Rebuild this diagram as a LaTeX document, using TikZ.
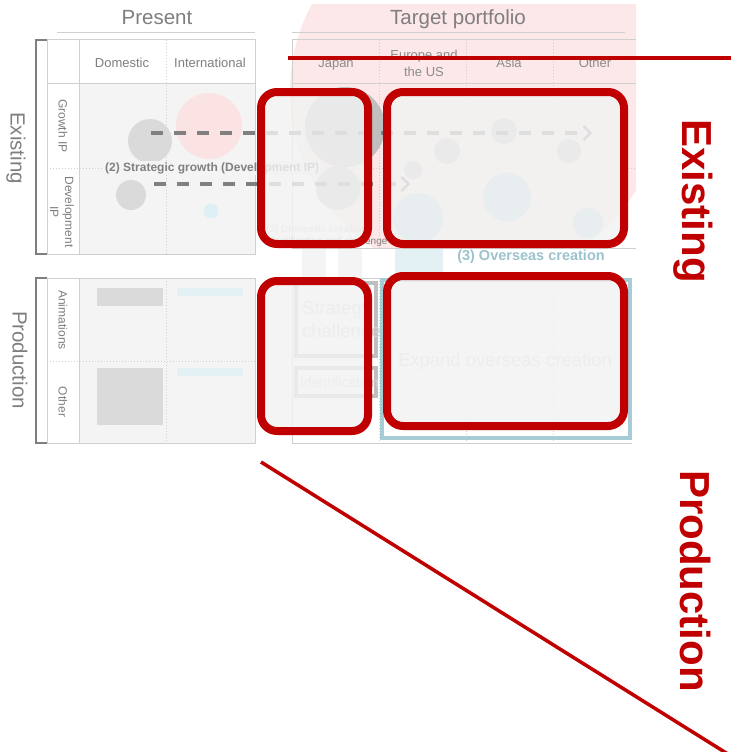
\documentclass[tikz,border=0pt]{standalone}
\usepackage{fontspec}
\setmainfont{Liberation Sans}
\usetikzlibrary{arrows.meta,positioning}
\definecolor{ink}{HTML}{7F7F7F}
\definecolor{muted}{HTML}{8C8C8C}
\definecolor{hair}{HTML}{D0D0D0}
\definecolor{cellfill}{HTML}{F4F4F4}
\definecolor{blush}{HTML}{FCE7E9}
\definecolor{pinkdot}{HTML}{FBE3E4}
\definecolor{bubble}{HTML}{DADADA}
\definecolor{bubbledark}{HTML}{BFBFBF}
\definecolor{bubblefar}{HTML}{C4C4C4}
\definecolor{icefill}{HTML}{DDF0F3}
\definecolor{icefar}{HTML}{B9D8E2}
\definecolor{icebar}{HTML}{E4F1F4}
\definecolor{teal}{HTML}{9DC3CE}
\definecolor{tealedge}{HTML}{A6CCD5}
\definecolor{veil}{HTML}{F2F2F2}
\definecolor{hired}{HTML}{C00000}
\definecolor{flowgray}{HTML}{808080}
\definecolor{ghost}{HTML}{D6D6D6}
\definecolor{ghostblue}{HTML}{CCDADF}
\tikzset{
  every node/.style={text=ink},
  title/.style={font=\fontsize{20.5}{23}\selectfont, anchor=base},
  hdr/.style={font=\fontsize{13}{17}\selectfont, align=center},
  rowlbl/.style={font=\fontsize{12}{15}\selectfont, rotate=-90, align=center},
  seclbl/.style={font=\fontsize{20.5}{23}\selectfont, rotate=-90},
  redlbl/.style={font=\fontsize{42}{44}\selectfont\bfseries, text=hired,
    rotate=-90, inner sep=0pt},
  grid/.style={draw=hair, line width=1pt},
  sep/.style={draw=hair, dotted, line width=1pt},
  brace/.style={draw=ink, line width=1.2pt},
  card/.style={draw=bubbledark, line width=3.5pt},
  flow/.style={draw=flowgray, line width=3.2pt, dash pattern=on 12pt off 11pt,
    -{Straight Barb[length=7pt,width=14pt,line width=2.2pt]}},
  hlbox/.style={draw=hired, line width=8pt, rounded corners=16pt,
    fill=veil, fill opacity=.83},
  marker/.style={draw=hired, line width=3.5pt},
  faint/.style={font=\fontsize{18.5}{23}\selectfont, text=#1, align=left}
}

\begin{document}
\begin{tikzpicture}[x=1pt,y=-1pt]
\useasboundingbox (0,0) rectangle (731,752);
\fill[white] (0,0) rectangle (731,752);

% pink backdrop of the target portfolio
\begin{scope}
  \clip (290,5) rectangle (636,248);
  \fill[blush] (477,92) circle (187);
\end{scope}

% titles
\node[title] (present) at (157,25) {Present};
\node[title] (target) at (458,25) {Target portfolio};
\draw[grid] (57,33) -- (255,33);
\draw[grid] (292,33) -- (625,33);

% present / existing
\fill[white] (47,40) rectangle (255,254);
\fill[cellfill] (79,83) rectangle (255,254);
\draw[grid] (47,40) rectangle (255,254);
\draw[grid] (79,40) -- (79,254);
\draw[grid] (47,83) -- (255,83);
\draw[sep] (166,40) -- (166,254);
\draw[sep] (47,168) -- (255,168);
\draw[brace] (47,40) -- (36,40) -- (36,254) -- (47,254);
\fill[bubble] (150,141) circle (22);
\fill[pinkdot] (209,126) circle (33);
\fill[bubble] (131,195) circle (15);
\fill[icefill] (211,211) circle (7.5);

% present / production
\fill[white] (47,278) rectangle (255,443);
\fill[cellfill] (79,278) rectangle (255,443);
\draw[grid] (47,278) rectangle (255,443);
\draw[grid] (79,278) -- (79,443);
\draw[sep] (166,278) -- (166,443);
\draw[sep] (47,361) -- (255,361);
\draw[brace] (47,278) -- (36,278) -- (36,443) -- (47,443);
\fill[bubble] (97,288) rectangle (163,306);
\fill[bubble] (97,368) rectangle (163,425);
\fill[icebar] (177,288) rectangle (243,296);
\fill[icebar] (177,368) rectangle (243,376);

\node[hdr, anchor=base] (domestic) at (122,67) {Domestic};
\node[hdr, anchor=base] (intl) at (210,67) {International};
\node[seclbl] (secExist) at (16,148) {Existing};
\node[seclbl] (secProd) at (20,360) {Production};
\node[rowlbl] (growth) at (63,126) {Growth IP};
\node[rowlbl] (devel) at (62,212) {Development\\IP};
\node[rowlbl] (anim) at (63,320) {Animations};
\node[rowlbl] (otherRow) at (63,402) {Other};

% target / existing
\draw[grid] (636,40) -- (292,40) -- (292,248) -- (636,248);
\draw[grid] (292,83) -- (636,83);
\foreach \xx in {379,466,553}
  \draw[sep] (\xx,40) -- (\xx,248);
\draw[sep] (292,168) -- (636,168);
\fill[bubbledark] (345,127) circle (40);
\fill[bubblefar] (338,188) circle (22);
\fill[bubblefar] (413,170) circle (9);
\fill[bubblefar] (447,151) circle (13);
\fill[bubblefar] (504,131) circle (13);
\fill[bubblefar] (569,151) circle (12);
\fill[icefar] (418,218) circle (25);
\fill[icefar] (507,197) circle (24);
\fill[icefar] (588,223) circle (15);
\fill[cellfill] (302,249) rectangle (326,277);
\fill[cellfill] (338,249) rectangle (362,277);
\fill[icebar] (395,249) rectangle (443,277);

\node[hdr, text=muted, anchor=base] (japan) at (336,67) {Japan};
\node[hdr, text=muted] (euus) at (424,63) {Europe and\\the US};
\node[hdr, text=muted, anchor=base] (asia) at (509,67) {Asia};
\node[hdr, text=muted, anchor=base] (otherCol) at (595,67) {Other};

\node[font=\fontsize{10}{12}\selectfont\bfseries, text=ghost,
  anchor=base west, inner sep=0pt] (domLbl) at (266,232) {(3) Domestic creation};
\node[font=\fontsize{10}{12}\selectfont, text=flowgray, inner sep=0pt,
  below=3pt of domLbl.south west, anchor=north west] (domSub)
  {Identification and challenge};

% target / production
\draw[grid] (380,278) -- (292,278) -- (292,443) -- (632,443);
\foreach \xx in {379,466,553}
  \draw[sep] (\xx,278) -- (\xx,443);
\draw[card] (296,283) rectangle (376,356);
\draw[card] (296,368) rectangle (376,396);
\node[faint=ghost, anchor=north west, inner sep=0pt] (strategy)
  at (302,301) {Strategy\\challenge};
\node[font=\fontsize{14}{16}\selectfont, text=ghost, anchor=west,
  inner sep=0pt] (ident) at (300,382) {Identification};
\draw[draw=tealedge, line width=4pt] (382,280) rectangle (630,438);
\node[faint=ghostblue] (expand) at (505,362) {Expand overseas creation};

% growth paths
\coordinate (gipA) at (151,133);
\coordinate (gipB) at (592,133);
\coordinate (dipA) at (154,184);
\coordinate (dipB) at (410,184);
\draw[flow] (gipA) -- (gipB);
\draw[flow] (dipA) -- (dipB);
\node[font=\fontsize{12}{14}\selectfont\bfseries, text=flowgray, fill=cellfill,
  inner sep=1pt, anchor=west] (strat) at (104,168)
  {(2) Strategic growth (Development IP)};

% highlighted areas
\node[hlbox, minimum width=107pt, minimum height=152pt] (jpNow) at (314.5,168) {};
\node[hlbox, minimum width=237pt, minimum height=152pt] (abroadNow) at (505.5,168) {};
\node[hlbox, minimum width=107pt, minimum height=150pt] (jpMake) at (314.5,356) {};
\node[hlbox, minimum width=237pt, minimum height=150pt] (abroadMake) at (505.5,351) {};

\node[font=\fontsize{14.5}{16}\selectfont\bfseries, text=teal] (overseas)
  at (531,257) {(3) Overseas creation};

% red marks
\coordinate (topA) at (288,58);
\coordinate (topB) at (731,58);
\coordinate (diagA) at (261,462);
\coordinate (diagB) at (731,756);
\draw[marker] (topA) -- (topB);
\draw[marker] (diagA) -- (diagB);
\node[redlbl] (existR) at (693,201) {Existing};
\node[redlbl] (prodR) at (696,581) {Production};

\end{tikzpicture}
\end{document}
